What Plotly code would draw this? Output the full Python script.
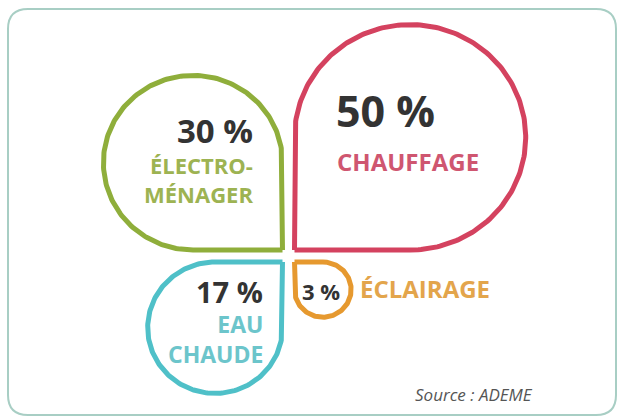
import numpy as np
import plotly.graph_objects as go

# ---- data ----
categories = ["CHAUFFAGE", "ÉLECTRO-MÉNAGER", "EAU CHAUDE", "ÉCLAIRAGE"]
values = [50, 30, 17, 3]
pct_labels = ["50 %", "30 %", "17 %", "3 %"]
source_text = "Source : ADEME"

# ---- style / layout constants ----
W, H = 622, 418
CX, CY = 288.5, 256.0          # centre of the flower (pixels)
GAP = 6.0                        # half gap between petals
K = 16.35                        # px per sqrt(unit)
YSQ = 0.975                      # slight vertical squash
LW = 5
# quadrant direction (sx, sy) in screen coords (y down)
dirs = [(1, -1), (-1, -1), (-1, 1), (1, 1)]
stroke_colors = ["#d4425f", "#8fae3b", "#4fc0c8", "#e6992f"]
label_colors = ["#cf5670", "#9db352", "#6cc5cb", "#e3a54c"]
DARK = "#333333"
FONT = "Open Sans"


def petal(value, sx, sy):
    r = K * np.sqrt(value)
    ry = r * YSQ
    c = np.array([CX + sx * GAP, CY + sy * GAP])
    o = c + np.array([sx * r, sy * ry])
    t = np.linspace(0, 1.5 * np.pi, 200)
    ax = o[0] + r * (np.cos(t) * (-sx))
    ay = o[1] + ry * (np.sin(t) * sy)
    xs = np.concatenate([[c[0]], ax, [c[0]]])
    ys = np.concatenate([[c[1]], ay, [c[1]]])
    return xs, ys


fig = go.Figure()
for cat, v, (sx, sy), col in zip(categories, values, dirs, stroke_colors):
    xs, ys = petal(v, sx, sy)
    fig.add_trace(go.Scatter(x=xs, y=ys, mode="lines", name=cat,
                             line=dict(color=col, width=LW),
                             hoverinfo="skip", showlegend=False))

ann = []


def add(text, x, y, size, color, xanchor, bold=True, italic=False, align="left"):
    t = text
    if bold:
        t = "<b>" + t + "</b>"
    if italic:
        t = "<i>" + t + "</i>"
    ann.append(dict(text=t, x=x, y=y, xref="x", yref="y", xanchor=xanchor,
                    yanchor="middle", showarrow=False, borderpad=0, align=align,
                    font=dict(family=FONT, size=size, color=color)))


# chauffage
add(pct_labels[0], 335, 110, 43, DARK, "left")
add("CHAUFFAGE", 336, 161, 24, label_colors[0], "left")
# électro-ménager
add(pct_labels[1], 254, 130, 33, DARK, "right")
add("ÉLECTRO-<br>MÉNAGER", 254, 179, 22, label_colors[1], "right", align="right")
# eau chaude
add(pct_labels[2], 264, 291, 29, DARK, "right")
add("EAU<br>CHAUDE", 264, 339, 23, label_colors[2], "right", align="right")
# éclairage
add(pct_labels[3], 301, 291, 22, DARK, "left")
add("ÉCLAIRAGE", 359, 288, 24, label_colors[3], "left")
# source
add(source_text, 414, 394, 17, "#555555", "left", bold=False, italic=True)

# rounded border
x0, y0, x1, y1, rr = 8, 9, 616, 415, 20
border = (f"M {x0+rr},{y0} L {x1-rr},{y0} Q {x1},{y0} {x1},{y0+rr} "
          f"L {x1},{y1-rr} Q {x1},{y1} {x1-rr},{y1} L {x0+rr},{y1} "
          f"Q {x0},{y1} {x0},{y1-rr} L {x0},{y0+rr} Q {x0},{y0} {x0+rr},{y0} Z")

fig.update_layout(
    width=W, height=H, autosize=False,
    margin=dict(l=0, r=0, t=0, b=0),
    paper_bgcolor="white", plot_bgcolor="white",
    xaxis=dict(range=[0, W], visible=False, fixedrange=True),
    yaxis=dict(range=[H, 0], visible=False, fixedrange=True),
    annotations=ann,
    shapes=[dict(type="path", path=border, xref="x", yref="y",
                 line=dict(color="#a8cec4", width=2), layer="below")],
)
fig.write_html("out.html", config={"displayModeBar": False},
               post_script="document.body.style.margin='0';document.body.style.overflow='hidden';")
